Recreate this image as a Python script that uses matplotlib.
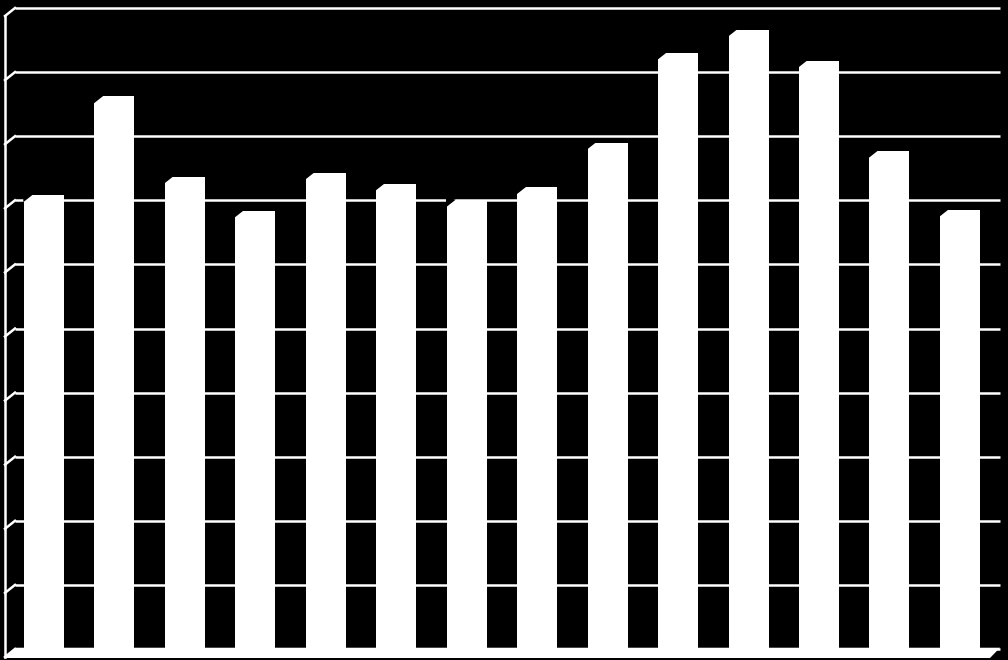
"""
Black-background pseudo-3D column chart with white bars
"""

import matplotlib
matplotlib.use('Agg')
import matplotlib.pyplot as plt
from matplotlib.patches import Polygon

# Data (in grid units 0-10)
categories = list(range(1, 15))
values = [7.08, 8.62, 7.37, 6.84, 7.43, 7.26, 7.0, 7.2, 7.9, 9.3, 9.66, 9.18, 7.77, 6.85]
grid_levels = list(range(0, 11))

BG = 'black'
FG = 'white'

fig = plt.figure(figsize=(10.08, 6.6), dpi=100)
fig.patch.set_facecolor(BG)
ax = fig.add_axes([0, 0, 1, 1])
ax.set_facecolor(BG)
ax.axis('off')

# pixel -> data mapping: bar pitch ~70.45 px, grid pitch ~64.1 px
px_x = 70.45
px_y = 64.1
x0 = -44 / px_x
ax.set_xlim(x0, x0 + 1008 / px_x)
ax.set_ylim(-11 / px_y, 649 / px_y)

xs = [c - 1 for c in categories]
wall_x = x0 + 5 / px_x       # side wall
back_x = x0 + 15 / px_x      # back wall left edge
back_r = x0 + 1000 / px_x    # back wall right edge
dx = 10 / px_x
dy = 8 / px_y

# back wall gridlines with stubs to side wall
for g in grid_levels:
    ax.plot([back_x, back_r], [g, g], color=FG, lw=1.8, solid_capstyle='butt', zorder=1)
    ax.plot([wall_x, back_x], [g - dy, g], color=FG, lw=1.8, zorder=1)
ax.plot([wall_x, wall_x], [grid_levels[-1] - dy, -dy], color=FG, lw=1.8, zorder=1)

# floor
floor = Polygon([(wall_x, -dy - 1 / px_y), (back_r - dx, -dy - 1 / px_y),
                 (back_r, 0.02), (back_x, 0.02)],
                closed=True, facecolor=FG, edgecolor='none', zorder=2)
ax.add_patch(floor)

# bars
width = 40 / px_x
bars = ax.bar(xs, values, width=width, bottom=0, color=FG, edgecolor='none', zorder=3)
bars = ax.bar(xs, [0.12] * len(xs), width=width, bottom=-0.12, color=FG, edgecolor='none', zorder=3)

# cut the top-left corner for a depth look
cx = 9 / px_x
cy = 7 / px_y
for x, v in zip(xs, values):
    left = x - width / 2
    tri = Polygon([(left - 0.01, v + 0.05), (left - 0.01, v - cy), (left + cx, v + 0.01)],
                  closed=True, facecolor=BG, edgecolor='none', zorder=4)
    ax.add_patch(tri)

plt.savefig('out.png', dpi=100, facecolor=BG)
